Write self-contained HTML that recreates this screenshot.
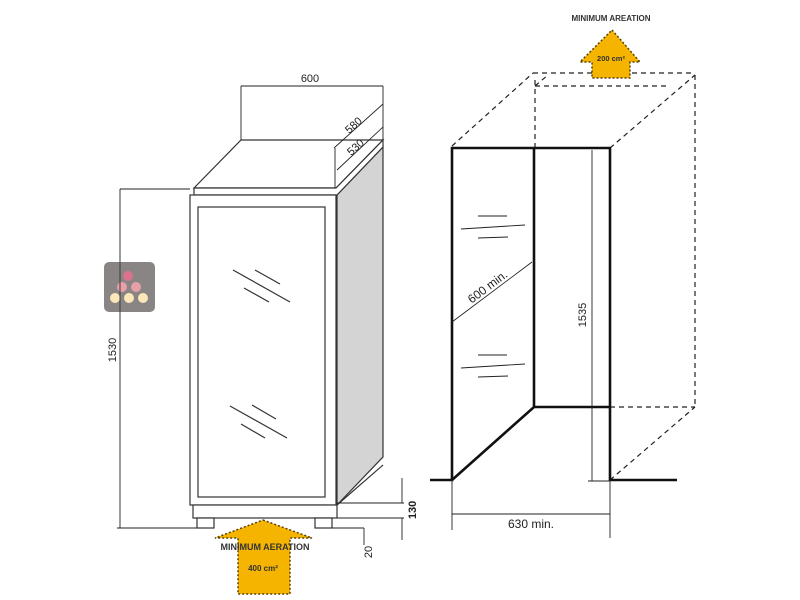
<!DOCTYPE html>
<html><head><style>body{margin:0;background:#fff}svg{display:block}</style></head>
<body>
<svg width="800" height="600" viewBox="0 0 800 600" xmlns="http://www.w3.org/2000/svg" font-family="Liberation Sans, sans-serif">
<rect width="800" height="600" fill="#fff"/>
<!-- LEFT FRIDGE -->
<g stroke="#333" fill="none" stroke-width="1.2">
<polygon points="337,195 383,147 383,457 337,505" fill="#d4d4d4"/>
<line x1="337" y1="505" x2="383" y2="465"/>
<polygon points="241,140 383,140 336,188 194,188" fill="#fff"/>
<polygon points="194,188 336,188 383,140 383,147 337,195 194,195" fill="#fff"/>
<rect x="190" y="195" width="146" height="310" fill="#fff"/>
<rect x="198" y="207" width="127" height="290"/>
<rect x="193" y="505" width="144" height="13" fill="#fff"/>
<rect x="197" y="518" width="17" height="10" fill="#fff"/>
<rect x="315" y="518" width="17" height="10" fill="#fff"/>
<line x1="233" y1="270" x2="290" y2="302"/><line x1="255" y1="270" x2="280" y2="284"/><line x1="244" y1="288" x2="269" y2="302"/>
<line x1="230" y1="406" x2="287" y2="438"/><line x1="252" y1="405" x2="276" y2="419"/><line x1="241" y1="424" x2="265" y2="438"/>
</g>
<!-- dims left -->
<g stroke="#222" stroke-width="0.9" fill="none">
<line x1="241" y1="86" x2="383" y2="86"/><line x1="241" y1="86" x2="241" y2="140"/><line x1="383" y1="86" x2="383" y2="140"/>
<line x1="334" y1="148" x2="383" y2="104"/><line x1="337" y1="170" x2="383" y2="127"/><line x1="335" y1="148" x2="335" y2="188"/>
<line x1="120" y1="189" x2="120" y2="528"/><line x1="120" y1="189" x2="190" y2="189"/><line x1="117" y1="528" x2="197" y2="528"/>
<line x1="337" y1="503" x2="404" y2="503"/><line x1="337" y1="518" x2="404" y2="518"/>
<line x1="402" y1="478" x2="402" y2="503"/><line x1="402" y1="518" x2="402" y2="540"/>
<line x1="332" y1="528" x2="364" y2="528"/><line x1="364" y1="528" x2="364" y2="545"/>
</g>
<g fill="#222" font-size="11">
<text x="310" y="82" text-anchor="middle">600</text>
<text transform="translate(356,128) rotate(-42)" text-anchor="middle">580</text>
<text transform="translate(358,150) rotate(-42)" text-anchor="middle">530</text>
<text transform="translate(116,350) rotate(-90)" text-anchor="middle">1530</text>
<text transform="translate(416,510) rotate(-90)" text-anchor="middle" font-weight="bold">130</text>
<text transform="translate(372,552) rotate(-90)" text-anchor="middle">20</text>
</g>
<!-- logo -->
<rect x="104" y="262" width="51" height="50" rx="5" fill="#8a8585"/>
<circle cx="128" cy="276" r="5" fill="#d9738f"/>
<circle cx="122" cy="287" r="5" fill="#e8a0a8"/><circle cx="136" cy="287" r="5" fill="#e8a0a8"/>
<circle cx="115" cy="298" r="5" fill="#fbe7b8"/><circle cx="129" cy="298" r="5" fill="#fbe7b8"/><circle cx="143" cy="298" r="5" fill="#fbe7b8"/>
<line x1="120" y1="262" x2="120" y2="312" stroke="#333" stroke-width="0.9"/>
<!-- bottom arrow -->
<polygon points="263,520 312,538 290,538 290,594 238,594 238,538 215,538" fill="#f5b400" stroke="#5a4000" stroke-width="1.5" stroke-dasharray="2,2"/>
<text x="265" y="550" text-anchor="middle" font-size="9" font-weight="bold" fill="#333">MINIMUM AERATION</text>
<text x="263" y="571" text-anchor="middle" font-size="8" font-weight="bold" fill="#333">400 cm²</text>
<!-- RIGHT -->
<g stroke="#222" stroke-width="1.2" stroke-dasharray="5,4" fill="none">
<line x1="452" y1="146" x2="533" y2="73"/><line x1="533" y1="73" x2="695" y2="73"/>
<line x1="695" y1="75" x2="695" y2="407"/><line x1="610" y1="148" x2="695" y2="75"/>
<line x1="535" y1="148" x2="535" y2="78"/><line x1="535" y1="86" x2="670" y2="86"/><line x1="535" y1="86" x2="548" y2="75"/>
<line x1="610" y1="407" x2="695" y2="407"/><line x1="610" y1="480" x2="695" y2="407"/>
</g>
<g stroke="#111" stroke-width="2.6" fill="none">
<polyline points="430,480 452,480 452,148 610,148 610,480 677,480"/>
<line x1="534" y1="148" x2="534" y2="407"/>
<polyline points="452,480 534,407 610,407"/>
</g>
<g stroke="#222" stroke-width="0.9" fill="none">
<line x1="478" y1="216" x2="507" y2="216"/><line x1="461" y1="229" x2="525" y2="225"/><line x1="478" y1="238" x2="508" y2="237"/>
<line x1="478" y1="355" x2="507" y2="355"/><line x1="461" y1="368" x2="525" y2="364"/><line x1="478" y1="377" x2="508" y2="376"/>
<line x1="452" y1="322" x2="532" y2="262"/>
<line x1="592" y1="150" x2="592" y2="481"/><line x1="588" y1="481" x2="610" y2="481"/>
<line x1="452" y1="480" x2="452" y2="530"/><line x1="610" y1="480" x2="610" y2="538"/>
<line x1="452" y1="514" x2="610" y2="514"/>
</g>
<g fill="#222" font-size="12">
<text transform="translate(490,290) rotate(-37)" text-anchor="middle">600 min.</text>
<text transform="translate(586,315) rotate(-90)" text-anchor="middle" font-size="11">1535</text>
<text x="531" y="528" text-anchor="middle">630 min.</text>
</g>
<polygon points="612,30 640,62 630,62 630,78 592,78 592,62 580,62" fill="#f5b400" stroke="#5a4000" stroke-width="1.5" stroke-dasharray="2,2"/>
<text x="611" y="21" text-anchor="middle" font-size="8" font-weight="bold" fill="#333">MINIMUM AREATION</text>
<text x="611" y="61" text-anchor="middle" font-size="7.5" font-weight="bold" fill="#333">200 cm²</text>
</svg>
</body></html>
